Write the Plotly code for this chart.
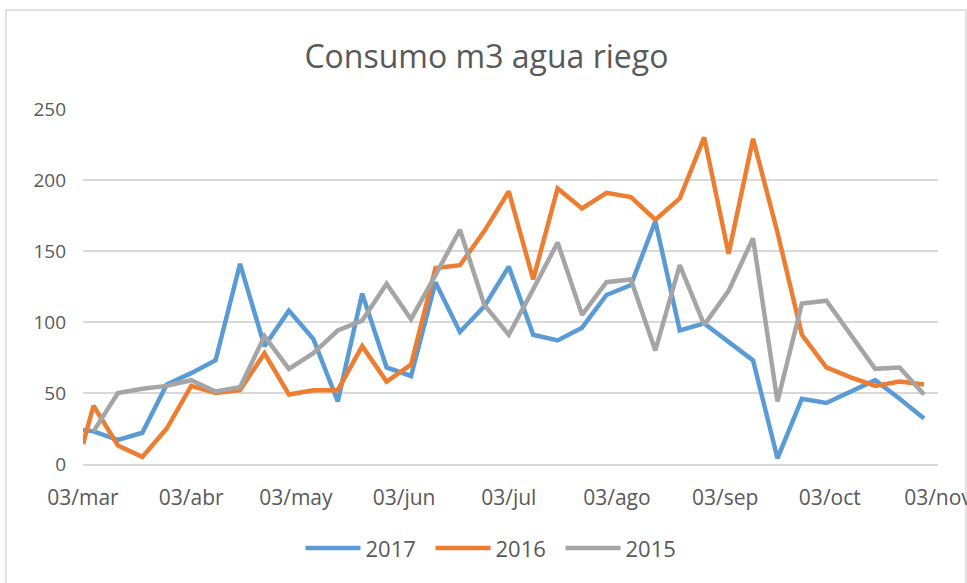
import plotly.graph_objects as go

# Weekly reading dates (mapped onto one calendar year)
dates = ["2017-03-03", "2017-03-06", "2017-03-13", "2017-03-20", "2017-03-27",
         "2017-04-03", "2017-04-10", "2017-04-17", "2017-04-24",
         "2017-05-01", "2017-05-08", "2017-05-15", "2017-05-22", "2017-05-29",
         "2017-06-05", "2017-06-12", "2017-06-19", "2017-06-26",
         "2017-07-03", "2017-07-10", "2017-07-17", "2017-07-24", "2017-07-31",
         "2017-08-07", "2017-08-14", "2017-08-21", "2017-08-28",
         "2017-09-04", "2017-09-11", "2017-09-18", "2017-09-25",
         "2017-10-02", "2017-10-09", "2017-10-16", "2017-10-23", "2017-10-30"]

s2017 = [24, 23, 17, 22, 56, 64, 73, 141, 83, 108, 88, 44, 120, 68, 62, 128, 93, 111,
         139, 91, 87, 96, 119, 126, 171, 94, 99, 86, 73, 4, 46, 43, 51, 59, 46, 32]
s2016 = [14, 41, 13, 5, 25, 55, 50, 52, 78, 49, 52, 52, 83, 58, 70, 138, 140, 164,
         192, 130, 194, 180, 191, 188, 172, 187, 230, 148, 229, 163, 91, 68, 61, 55, 58, 56]
s2015 = [None, 23, 50, 53, 55, 59, 51, 54, 90, 67, 78, 94, 101, 127, 102, 133, 165, 112,
         91, 123, 156, 105, 128, 130, 80, 140, 98, 122, 159, 44, 113, 115, 91, 67, 68, 49]

tick_dates = ["2017-03-03", "2017-04-03", "2017-05-03", "2017-06-03", "2017-07-03",
              "2017-08-03", "2017-09-03", "2017-10-03", "2017-11-03"]
tick_labels = ["03/mar", "03/abr", "03/may", "03/jun", "03/jul",
               "03/ago", "03/sep", "03/oct", "03/nov"]
y_ticks = [0, 50, 100, 150, 200, 250]

series = [("2017", s2017, "#5B9BD5"), ("2016", s2016, "#ED7D31"), ("2015", s2015, "#A5A5A5")]

FONT = "Open Sans"
TXT = "#595959"

fig = go.Figure()
for name, vals, col in series:
    fig.add_trace(go.Scatter(x=dates, y=vals, name=name, mode="lines",
                             line=dict(color=col, width=4.5), connectgaps=False))

fig.update_layout(
    width=967, height=583,
    margin=dict(l=83, r=29, t=109, b=119, autoexpand=False),
    paper_bgcolor="white", plot_bgcolor="white",
    title=dict(text="Consumo m3 agua riego", x=0.503, xanchor="center",
               y=0.902, yanchor="middle",
               font=dict(family=FONT, size=32, color=TXT)),
    font=dict(family=FONT, color=TXT),
    showlegend=True,
    legend=dict(orientation="h", x=0.4825, xanchor="center", y=-0.237, yanchor="middle",
                font=dict(family=FONT, size=22, color=TXT), itemwidth=55,
                entrywidth=60, entrywidthmode="pixels",
                traceorder="normal"),
    xaxis=dict(type="date", range=["2017-03-03", "2017-11-03"],
               tickvals=tick_dates, ticktext=tick_labels,
               showgrid=False, zeroline=False, automargin=False,
               showline=True, linecolor="#D9D9D9", linewidth=1.5,
               ticks="", ticklabelstandoff=14, ticklabeloverflow="allow",
               tickfont=dict(family=FONT, size=21, color=TXT)),
    yaxis=dict(range=[0, 250], tickvals=y_ticks, automargin=False,
               showgrid=True, gridcolor="#D9D9D9", gridwidth=1.5,
               zeroline=False, showline=False, ticks="",
               ticklabelstandoff=16,
               tickfont=dict(family=FONT, size=19, color=TXT)),
    shapes=[dict(type="rect", xref="paper", yref="paper",
                 x0=-0.0901, x1=1.0327, y0=-0.5, y1=1.279,
                 line=dict(color="#D9D9D9", width=1.5), fillcolor="rgba(0,0,0,0)",
                 layer="below")],
)

fig.write_html("out.html", config={"displayModeBar": False},
               post_script="document.body.style.margin='0';")
